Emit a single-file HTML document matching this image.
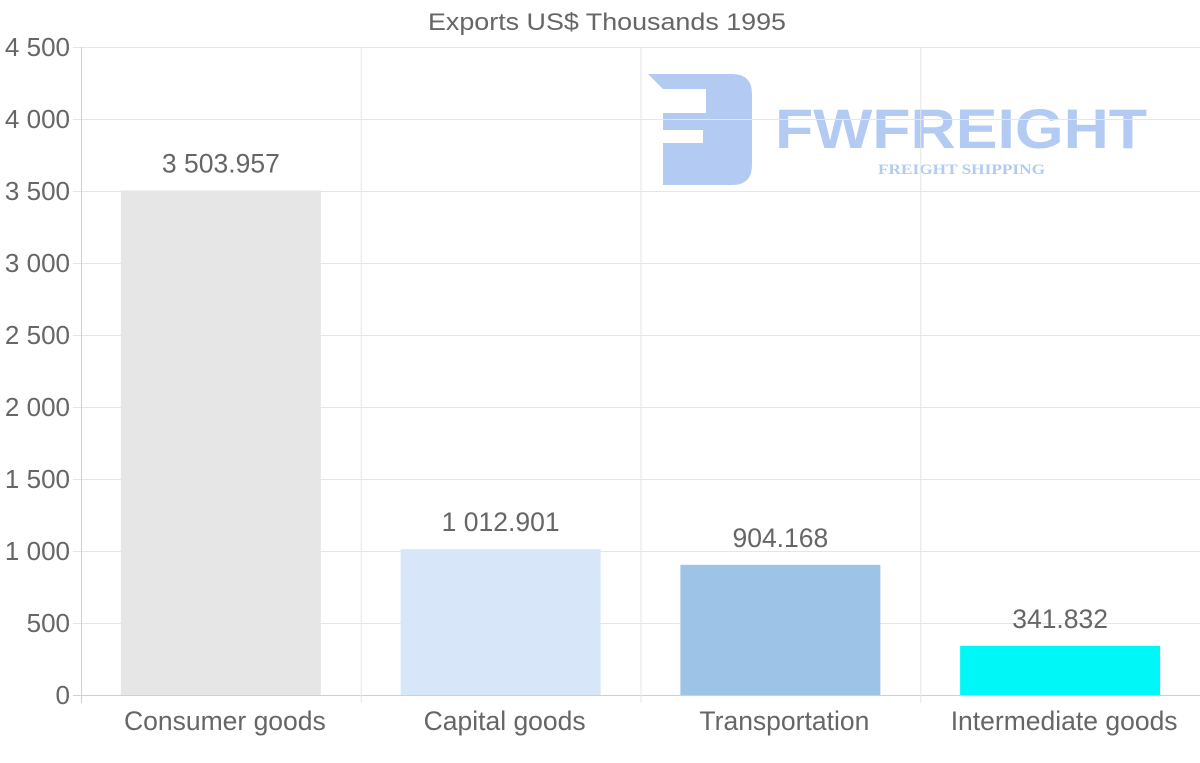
<!DOCTYPE html>
<html><head><meta charset="utf-8"><style>
html,body{margin:0;padding:0;background:#fff;}
svg{display:block;font-family:"Liberation Sans",sans-serif;}
</style></head><body>
<svg id="c" width="1200" height="763">
<g fill="#b3cbf3">
<path d="M648 74 H732 Q752 74 752 94 V165 Q752 185 732 185 H663 V143 H703 V130 H663 V113 H706 V89 H663 Z"/>
<text x="775" y="148" font-size="56" font-weight="bold" textLength="372" lengthAdjust="spacingAndGlyphs">FWFREIGHT</text>
<text x="878" y="174" font-size="15" font-weight="bold" font-family="Liberation Serif,serif" textLength="167" lengthAdjust="spacingAndGlyphs">FREIGHT SHIPPING</text>
</g>
<g id="grid"></g><g id="bars"></g><g id="labels"></g>
<text x="607" y="30" text-anchor="middle" font-size="24" fill="#666" textLength="358" lengthAdjust="spacingAndGlyphs">Exports US$ Thousands 1995</text>
</svg>
<script>
const categories=["Consumer goods","Capital goods","Transportation","Intermediate goods"];
const values=[3503.957,1012.901,904.168,341.832];
const valueLabels=["3 503.957","1 012.901","904.168","341.832"];
const colors=["#e6e6e6","#d7e7f9","#9dc3e6","#00f7f7"];
const yTicks=[0,500,1000,1500,2000,2500,3000,3500,4000,4500];
const yTickLabels=["0","500","1 000","1 500","2 000","2 500","3 000","3 500","4 000","4 500"];
const NS="http://www.w3.org/2000/svg";
const L=81,R=1200,T=47,B=695,yMax=4500;
const y=v=>B-(v/yMax)*(B-T);
const cw=(R-L)/categories.length;
const x=i=>L+cw*i;
function mk(p,tag,at,txt){const e=document.createElementNS(NS,tag);for(const k in at)e.setAttribute(k,at[k]);if(txt!=null)e.textContent=txt;document.getElementById(p).appendChild(e);return e;}
yTicks.forEach((t,i)=>{
 let g=mk('grid','line',{x1:73,x2:R,y1:y(t)+0.5,y2:y(t)+0.5,stroke:t===0?'#d0d0d0':'#e6e6e6'});
 
 
 let l=mk('labels','text',{x:70,y:y(t)+9,'text-anchor':'end','font-size':26,fill:'#666'},yTickLabels[i]);
 
 
});
for(let i=0;i<=categories.length;i++){
 let g=mk('grid','line',{x1:x(i)+0.5,x2:x(i)+0.5,y1:T,y2:B+8,stroke:i===0?'#d0d0d0':'#e6e6e6'});
 
 
}
categories.forEach((c,i)=>{
 const cx=x(i)+cw/2,bw=200;
 let b=mk('bars','rect',{x:cx-bw/2,y:y(values[i]),width:bw,height:B-y(values[i]),fill:colors[i]});
 
 
 let v=mk('labels','text',{x:cx,y:y(values[i])-18,'text-anchor':'middle','font-size':26.5,fill:'#666'},valueLabels[i]);
 
 
 let t=mk('labels','text',{x:cx+4,y:730,'text-anchor':'middle','font-size':26.5,fill:'#666'},c);
 
 
});
</script>
</body></html>
